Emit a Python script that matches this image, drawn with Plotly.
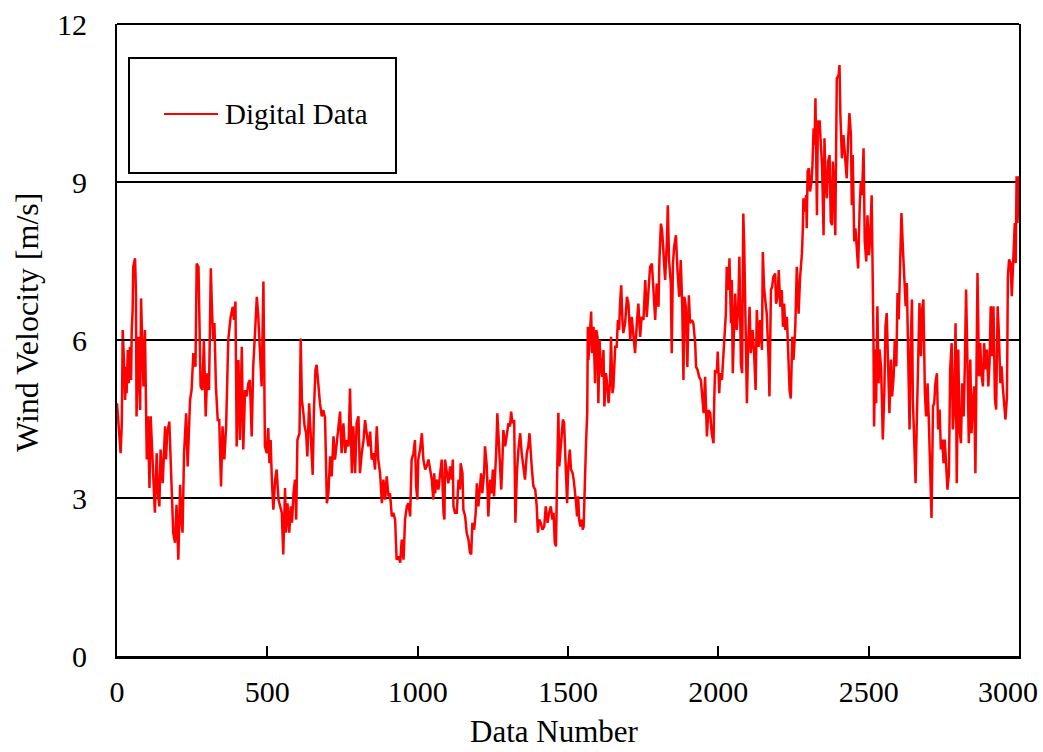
import plotly.graph_objects as go

# ---------------- data ----------------
data_number = [
    0, 4, 8, 12, 16, 19, 23, 27, 30, 32, 36, 39, 43, 47, 49, 52, 54, 60, 63, 65,
    71, 77, 80, 84, 88, 93, 99, 103, 108, 112, 119, 126, 132, 136, 141, 145, 152, 160, 163, 167,
    174, 179, 182, 187, 193, 198, 204, 210, 214, 218, 223, 230, 235, 243, 248, 254, 261, 265, 271, 274,
    278, 284, 289, 295, 300, 306, 312, 316, 320, 324, 329, 335, 340, 346, 351, 357, 363, 370, 378, 385,
    389, 394, 398, 404, 409, 415, 420, 426, 431, 437, 442, 448, 453, 459, 465, 470, 476, 481, 487, 489,
    492, 498, 503, 507, 511, 515, 520, 526, 531, 537, 542, 548, 553, 559, 562, 567, 573, 578, 582, 587,
    592, 596, 600, 607, 611, 615, 620, 624, 629, 633, 639, 644, 651, 655, 660, 664, 670, 675, 681, 686,
    692, 698, 703, 709, 714, 720, 725, 731, 736, 742, 747, 753, 759, 764, 770, 775, 781, 786, 792, 797,
    803, 808, 814, 820, 825, 831, 836, 842, 847, 853, 858, 864, 869, 875, 881, 886, 892, 897, 903, 908,
    914, 919, 925, 930, 936, 942, 947, 953, 958, 964, 969, 975, 980, 986, 991, 995, 999, 1002, 1008, 1014,
    1019, 1025, 1030, 1036, 1041, 1047, 1052, 1055, 1058, 1063, 1069, 1075, 1080, 1086, 1089, 1091, 1097, 1102, 1108, 1113,
    1117, 1119, 1124, 1130, 1136, 1141, 1143, 1149, 1152, 1158, 1163, 1169, 1174, 1178, 1182, 1188, 1193, 1197, 1202, 1208,
    1211, 1215, 1221, 1224, 1230, 1235, 1241, 1246, 1250, 1254, 1258, 1261, 1265, 1270, 1274, 1278, 1282, 1285, 1291, 1296,
    1302, 1307, 1311, 1315, 1321, 1325, 1330, 1335, 1341, 1346, 1352, 1357, 1363, 1368, 1372, 1376, 1380, 1385, 1391, 1396,
    1400, 1404, 1409, 1415, 1421, 1426, 1432, 1437, 1443, 1448, 1452, 1456, 1460, 1464, 1468, 1471, 1475, 1479, 1483, 1487,
    1490, 1494, 1497, 1501, 1506, 1510, 1515, 1519, 1524, 1527, 1530, 1534, 1537, 1541, 1546, 1549, 1552, 1555, 1557, 1560,
    1564, 1566, 1568, 1574, 1577, 1580, 1585, 1590, 1594, 1598, 1601, 1605, 1609, 1613, 1618, 1621, 1626, 1629, 1635, 1640,
    1643, 1648, 1651, 1657, 1662, 1666, 1670, 1673, 1677, 1681, 1684, 1690, 1696, 1701, 1707, 1712, 1718, 1723, 1729, 1734,
    1740, 1745, 1751, 1757, 1762, 1768, 1773, 1779, 1784, 1790, 1795, 1801, 1804, 1809, 1813, 1818, 1823, 1829, 1832, 1836,
    1842, 1845, 1849, 1853, 1859, 1864, 1870, 1875, 1880, 1884, 1887, 1892, 1897, 1902, 1906, 1912, 1917, 1923, 1926, 1931,
    1936, 1942, 1946, 1951, 1956, 1962, 1967, 1973, 1978, 1984, 1986, 1989, 1995, 1998, 2003, 2006, 2012, 2017, 2020, 2025,
    2028, 2034, 2037, 2042, 2045, 2048, 2053, 2056, 2061, 2066, 2070, 2075, 2079, 2083, 2086, 2090, 2095, 2099, 2104, 2108,
    2114, 2119, 2124, 2128, 2134, 2139, 2145, 2148, 2152, 2156, 2161, 2167, 2170, 2175, 2179, 2183, 2189, 2192, 2197, 2201,
    2206, 2211, 2215, 2219, 2223, 2228, 2232, 2237, 2241, 2246, 2250, 2256, 2261, 2267, 2272, 2278, 2281, 2283, 2288, 2292,
    2294, 2297, 2301, 2305, 2310, 2313, 2317, 2320, 2323, 2328, 2331, 2337, 2341, 2345, 2350, 2353, 2356, 2361, 2365, 2370,
    2374, 2378, 2381, 2385, 2389, 2391, 2394, 2400, 2403, 2406, 2411, 2416, 2422, 2427, 2432, 2436, 2441, 2444, 2447, 2452,
    2456, 2461, 2465, 2470, 2474, 2478, 2483, 2487, 2492, 2496, 2501, 2505, 2510, 2516, 2518, 2522, 2525, 2529, 2533, 2536,
    2541, 2544, 2547, 2552, 2556, 2560, 2565, 2569, 2574, 2578, 2583, 2587, 2592, 2596, 2600, 2605, 2609, 2614, 2618, 2623,
    2627, 2631, 2636, 2640, 2644, 2647, 2651, 2656, 2660, 2665, 2669, 2674, 2678, 2682, 2687, 2691, 2696, 2700, 2705, 2709,
    2714, 2718, 2722, 2727, 2731, 2736, 2740, 2745, 2749, 2753, 2758, 2762, 2767, 2771, 2776, 2780, 2784, 2789, 2793, 2798,
    2802, 2807, 2811, 2816, 2820, 2824, 2829, 2833, 2838, 2842, 2847, 2851, 2855, 2859, 2862, 2867, 2871, 2875, 2880, 2884,
    2889, 2893, 2898, 2902, 2906, 2911, 2915, 2920, 2924, 2929, 2933, 2938, 2942, 2946, 2951, 2955, 2960, 2963, 2967, 2972,
    2976, 2982, 2986, 2989, 2992, 2995, 2998, 3000,
]

wind_velocity = [
    4.80, 4.48, 4.10, 3.85, 4.42, 6.19, 5.62, 4.86, 5.49, 4.99, 5.81, 5.18, 5.87, 5.24, 6.19, 6.57, 7.39, 7.55, 6.95, 4.55,
    6.06, 4.67, 6.79, 6.00, 5.12, 6.19, 3.73, 4.55, 3.19, 4.55, 3.47, 2.72, 3.85, 3.09, 2.84, 3.92, 3.28, 4.36, 3.73, 4.23,
    4.45, 3.47, 2.90, 2.34, 2.15, 2.87, 1.83, 3.25, 2.59, 2.34, 3.85, 4.61, 3.60, 4.86, 5.05, 5.75, 5.49, 7.45, 7.39, 6.38,
    5.12, 5.05, 6.00, 4.55, 5.37, 5.05, 7.36, 6.57, 6.00, 6.32, 5.12, 4.48, 4.48, 3.22, 4.36, 3.73, 4.36, 6.00, 6.44, 6.63,
    6.38, 6.73, 3.98, 5.62, 4.10, 5.87, 3.92, 5.05, 4.93, 5.18, 5.24, 4.17, 5.49, 6.13, 6.82, 6.44, 5.75, 5.12, 7.11, 5.12,
    3.98, 3.85, 4.33, 3.66, 4.10, 3.35, 2.78, 3.35, 3.54, 2.97, 2.84, 2.72, 1.93, 3.19, 2.34, 2.90, 2.34, 2.84, 2.53, 3.09,
    3.35, 2.59, 4.10, 4.23, 6.03, 4.86, 4.61, 4.36, 4.23, 3.79, 4.80, 4.17, 3.44, 4.67, 5.43, 5.53, 5.05, 4.80, 4.55, 4.67,
    4.52, 2.90, 3.09, 3.79, 3.41, 4.17, 3.73, 4.04, 4.23, 4.64, 3.85, 4.42, 3.85, 4.10, 3.98, 5.08, 3.47, 4.36, 3.47, 4.42,
    4.55, 3.47, 3.85, 4.10, 4.48, 4.17, 3.98, 4.26, 3.73, 3.85, 3.54, 4.36, 3.73, 3.47, 2.90, 3.35, 2.97, 3.41, 3.03, 3.09,
    2.65, 2.72, 2.59, 1.83, 1.89, 1.77, 2.21, 1.83, 2.59, 2.84, 2.90, 2.65, 3.73, 3.85, 4.10, 3.22, 2.97, 3.73, 3.92, 4.23,
    3.73, 3.54, 3.60, 3.73, 3.54, 3.35, 2.97, 3.47, 3.09, 3.35, 3.16, 3.47, 3.73, 2.72, 2.59, 3.73, 3.47, 3.28, 3.60, 3.35,
    3.73, 2.84, 2.72, 2.72, 3.35, 3.16, 3.66, 3.47, 2.78, 2.65, 2.34, 2.21, 1.96, 1.93, 2.53, 2.40, 2.72, 3.28, 2.84, 3.22,
    3.47, 3.09, 3.47, 3.98, 3.60, 2.65, 3.35, 3.09, 3.54, 3.03, 3.47, 3.85, 4.61, 4.10, 3.60, 3.16, 3.73, 4.29, 3.98, 4.17,
    4.42, 4.36, 4.64, 4.42, 4.48, 2.53, 3.47, 3.92, 4.23, 3.85, 3.54, 3.35, 3.85, 3.98, 4.23, 3.73, 3.54, 3.22, 3.16, 2.84,
    2.34, 2.59, 2.53, 2.40, 2.46, 2.84, 2.53, 2.72, 2.84, 2.59, 2.72, 2.15, 2.08, 3.48, 4.62, 3.60, 3.92, 4.24, 4.49, 4.43,
    3.98, 3.60, 2.90, 3.60, 3.92, 3.54, 3.48, 3.35, 3.10, 2.90, 2.65, 3.03, 2.59, 2.46, 2.59, 2.40, 2.46, 3.22, 3.73, 4.05,
    4.62, 6.25, 5.62, 6.38, 6.54, 5.75, 6.25, 5.18, 6.19, 6.06, 4.80, 6.00, 5.49, 5.30, 5.81, 4.74, 5.37, 5.24, 4.80, 5.24,
    6.06, 4.99, 5.11, 5.87, 5.87, 6.38, 6.19, 6.69, 7.04, 6.38, 6.13, 6.32, 6.82, 6.69, 6.00, 6.44, 6.00, 5.75, 6.32, 6.69,
    6.06, 6.44, 6.38, 7.14, 6.44, 6.95, 7.39, 7.45, 6.88, 6.38, 7.07, 6.63, 7.52, 8.21, 8.08, 7.52, 7.14, 7.89, 8.56, 7.52,
    7.07, 5.75, 7.45, 7.77, 7.99, 7.33, 6.82, 7.52, 6.63, 5.24, 6.82, 6.63, 5.49, 6.85, 6.32, 6.38, 6.32, 5.94, 5.49, 5.43,
    5.30, 5.24, 4.93, 4.61, 5.30, 4.17, 4.67, 4.61, 4.23, 4.04, 4.74, 5.43, 5.37, 5.78, 4.99, 5.37, 5.24, 5.81, 6.00, 6.50,
    7.39, 6.95, 7.55, 6.32, 7.14, 5.37, 6.38, 6.88, 6.19, 6.57, 7.58, 5.56, 5.37, 8.40, 7.83, 6.63, 4.80, 5.87, 6.63, 5.75,
    6.19, 5.75, 5.05, 6.57, 5.87, 6.38, 5.81, 7.67, 7.01, 6.76, 6.50, 5.68, 4.93, 6.95, 7.01, 7.20, 7.26, 6.69, 6.82, 7.33,
    6.63, 6.95, 6.25, 6.69, 6.19, 6.44, 5.87, 5.05, 4.89, 6.06, 5.62, 6.25, 7.39, 6.50, 7.20, 7.64, 8.12, 8.69, 8.44, 8.75,
    8.12, 9.20, 9.26, 8.82, 9.01, 9.32, 10.02, 9.70, 10.59, 8.37, 10.15, 10.15, 9.70, 9.32, 7.99, 9.83, 9.13, 8.69, 9.39, 9.51,
    8.25, 8.18, 9.39, 8.94, 7.99, 10.08, 10.97, 11.03, 11.22, 10.27, 9.45, 9.89, 9.51, 9.07, 9.83, 10.31, 9.89, 8.56, 9.51, 7.87,
    8.12, 7.74, 7.36, 8.50, 9.01, 8.75, 9.64, 7.87, 7.49, 8.37, 7.61, 7.93, 8.75, 6.01, 4.36, 5.82, 4.80, 6.64, 5.18, 5.82,
    5.50, 4.87, 4.11, 4.99, 6.26, 6.51, 5.18, 4.61, 5.63, 4.93, 5.31, 6.01, 5.50, 6.89, 6.39, 7.46, 8.41, 7.72, 7.08, 6.64,
    7.08, 5.94, 4.30, 5.94, 6.77, 4.87, 3.92, 3.28, 4.42, 5.50, 6.70, 5.69, 6.58, 6.77, 4.99, 4.55, 5.18, 4.49, 3.28, 2.62,
    4.74, 4.80, 5.18, 5.37, 4.30, 4.68, 3.92, 4.11, 3.66, 4.11, 3.60, 3.16, 3.47, 5.44, 5.94, 4.30, 4.68, 6.32, 3.28, 5.82,
    4.30, 4.04, 5.18, 4.55, 5.56, 6.96, 5.44, 4.04, 5.63, 4.23, 4.87, 5.12, 3.47, 6.45, 7.27, 5.31, 5.94, 5.37, 5.12, 5.94,
    5.44, 5.82, 5.12, 5.56, 6.64, 5.69, 6.64, 4.87, 4.68, 6.64, 6.13, 5.18, 5.50, 5.12, 4.80, 4.49, 4.93, 7.21, 7.53, 7.46,
    6.83, 7.59, 8.22, 7.46, 9.11, 8.22, 9.11, 8.30,
]

x_tick_values = [0, 500, 1000, 1500, 2000, 2500, 3000]
x_tick_labels = ["0", "500", "1000", "1500", "2000", "2500", "3000"]
y_tick_values = [0, 3, 6, 9, 12]
series_name = "Digital Data"
x_title = "Data Number"
y_title = "Wind Velocity [m/s]"

# ---------------- figure ----------------
FONT = "Liberation Serif, Times New Roman, serif"
BLACK = "#000000"
RED = "#FF0000"

fig = go.Figure()
fig.add_trace(go.Scatter(
    x=data_number, y=wind_velocity, mode="lines",
    line=dict(color=RED, width=2.5), name=series_name, showlegend=False,
))

# the last tick label sits flush against the right edge of the chart, so it is
# drawn as a right-anchored label at the same height as the axis labels
axis_ticktext = x_tick_labels[:-1] + [""]

fig.update_layout(
    width=1043, height=752, autosize=False,
    margin=dict(l=117, r=24, t=24, b=96, pad=0, autoexpand=False),
    paper_bgcolor="white", plot_bgcolor="white",
    font=dict(family=FONT, color=BLACK, size=30),
    xaxis=dict(
        range=[0, 3000], tickmode="array", tickvals=x_tick_values, ticktext=axis_ticktext,
        ticks="inside", ticklen=10, tickwidth=2, tickcolor=BLACK,
        showline=True, linecolor=BLACK, linewidth=3, mirror=False,
        showgrid=False, zeroline=False, automargin=False,
        tickfont=dict(family=FONT, size=30, color=BLACK),
        ticklabelstandoff=7,
    ),
    yaxis=dict(
        range=[0, 12], tickmode="array", tickvals=y_tick_values,
        ticks="inside", ticklen=10, tickwidth=2, tickcolor=BLACK,
        showline=True, linecolor=BLACK, linewidth=2, mirror=True,
        showgrid=True, gridcolor=BLACK, gridwidth=2, zeroline=False, automargin=False,
        tickfont=dict(family=FONT, size=30, color=BLACK),
        ticklabelstandoff=22,
    ),
    shapes=[
        # top frame
        dict(type="line", xref="paper", yref="paper", x0=0, x1=1, y0=1, y1=1,
             line=dict(color=BLACK, width=2)),
        # legend box
        dict(type="rect", xref="paper", yref="paper", x0=0.0133, x1=0.3093,
             y0=0.7642, y1=0.9462, line=dict(color=BLACK, width=2), fillcolor="white"),
        # legend line sample
        dict(type="line", xref="paper", yref="paper", x0=0.0521, x1=0.1120,
             y0=0.8576, y1=0.8576, line=dict(color=RED, width=2)),
    ],
    annotations=[
        dict(text=x_tick_labels[-1], xref="x", yref="paper", x=x_tick_values[-1], y=-0.0554,
             xanchor="right", yanchor="middle", xshift=21, showarrow=False,
             font=dict(family=FONT, size=30, color=BLACK)),
        dict(text=series_name, xref="paper", yref="paper", x=0.1175, y=0.8576,
             xanchor="left", yanchor="middle", showarrow=False,
             font=dict(family=FONT, size=29, color=BLACK)),
        dict(text=x_title, xref="paper", yref="paper", x=0.4845, y=-0.1503,
             xanchor="center", yanchor="bottom", showarrow=False,
             font=dict(family=FONT, size=31, color=BLACK)),
        dict(text=y_title, xref="paper", yref="paper", x=-0.0998, y=0.5285,
             xanchor="center", yanchor="middle", showarrow=False, textangle=-90,
             font=dict(family=FONT, size=32, color=BLACK)),
    ],
)

fig.write_html("out.html")
